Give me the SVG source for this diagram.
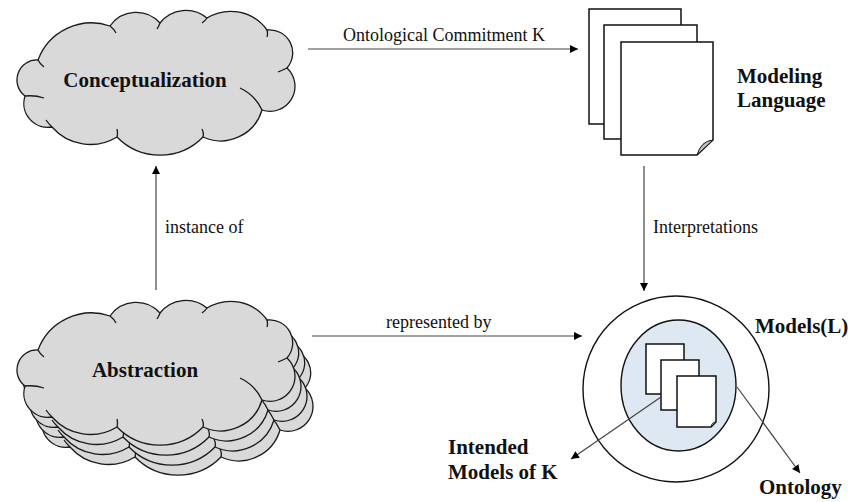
<svg xmlns="http://www.w3.org/2000/svg" xmlns:xlink="http://www.w3.org/1999/xlink" width="848" height="502" viewBox="0 0 848 502">
<style>
.cloud{fill:#d9d9d9;stroke:#1a1a1a;stroke-width:1.3}
.tail{fill:none;stroke:#1a1a1a;stroke-width:1.3}
.doc{fill:#fff;stroke:#111;stroke-width:1.5}
.flap{fill:#c0c0c0;stroke:#111;stroke-width:1}
.bold{font-family:"Liberation Serif","Times New Roman",serif;font-weight:bold;font-size:21px;fill:#111}
.lbl{font-family:"Liberation Serif","Times New Roman",serif;font-size:18px;fill:#111}
.conn{stroke:#444;stroke-width:1.2;fill:none;marker-end:url(#ah)}
</style>
<defs>
<marker id="ah" viewBox="0 0 10 10" refX="10" refY="5" markerWidth="9" markerHeight="8" markerUnits="userSpaceOnUse" orient="auto">
<path d="M0,0 L10,5 L0,10 z" fill="#000"/>
</marker>
<g id="cloudShape">
<path class="cloud" d="M38,60 A57,57 0 0 1 110,26 A32,32 0 0 1 160,23 A33,33 0 0 1 207,18 A45,45 0 0 1 267,30 A23,23 0 0 1 287,68 A25,25 0 0 1 262,110 A43,43 0 0 1 203,137 A60,60 0 0 1 117,137 A51,51 0 0 1 52,127 A24,24 0 0 1 25,96 A20,20 0 0 1 38,60 Z"/>
<path class="tail" d="M38,60 Q40,64 44,67 M110,26 Q114,29 116,33 M160,23 Q159,26 157,29 M207,18 Q205,21 202,23 M267,30 Q268,34 267,37 M287,68 Q283,70 278,72 M262,110 Q255,95 240,88 M203,137 Q204,133 202,129 M117,137 Q118,133 117,129 M52,127 Q48,123 46,120 M25,96 Q35,95 44,98"/>
</g>
</defs>
<rect width="848" height="502" fill="#fff"/>

<g id="conceptualization">
<use xlink:href="#cloudShape"/>
<text class="bold" x="145" y="87" text-anchor="middle">Conceptualization</text>
</g>

<g id="abstraction">
<use xlink:href="#cloudShape" transform="translate(18,320)"/>
<use xlink:href="#cloudShape" transform="translate(12,310)"/>
<use xlink:href="#cloudShape" transform="translate(6,300)"/>
<use xlink:href="#cloudShape" transform="translate(0,290)"/>
<text class="bold" x="145" y="377" text-anchor="middle">Abstraction</text>
</g>

<g id="modeling-language">
<rect class="doc" x="589" y="9" width="92" height="115"/>
<rect class="doc" x="604" y="25" width="93" height="114"/>
<path class="doc" d="M621,42 H713 V140 L697,155 H621 Z"/>
<path class="flap" d="M697,155 L713,140 Q701,141 697,155 Z"/>
<text class="bold" x="737" y="83">Modeling</text>
<text class="bold" x="737" y="107">Language</text>
</g>

<g id="models">
<circle cx="676" cy="389" r="93" fill="#fff" stroke="#111" stroke-width="1.4"/>
<text class="bold" x="755" y="333">Models(L)</text>
</g>

<g id="ontology-set">
<ellipse cx="678.5" cy="385.5" rx="57.5" ry="65.5" fill="#dee8f2" stroke="#111" stroke-width="1.4"/>
<rect class="doc" x="646" y="344" width="38" height="50"/>
<rect class="doc" x="661" y="360" width="38" height="50"/>
<path class="doc" d="M677,376 H716 V422 L711,427 H677 Z"/>
<path class="flap" d="M711,427 L716,422 Q712,422 711,427 Z"/>
</g>

<g id="intended-label">
<text class="bold" x="448" y="454">Intended</text>
<text class="bold" x="448" y="479">Models of K</text>
</g>

<g id="ontology-label">
<text class="bold" x="759" y="494">Ontology</text>
</g>

<g id="connectors">
<line class="conn" x1="308" y1="49" x2="578" y2="49"/>
<text class="lbl" x="343" y="41">Ontological Commitment K</text>
<line class="conn" x1="156" y1="290" x2="156" y2="166"/>
<text class="lbl" x="165" y="233">instance of</text>
<line class="conn" x1="644" y1="166" x2="644" y2="291"/>
<text class="lbl" x="653" y="233">Interpretations</text>
<line class="conn" x1="312" y1="336" x2="582" y2="336"/>
<text class="lbl" x="386" y="328">represented by</text>
<line class="conn" x1="661" y1="397" x2="571" y2="459"/>
<line class="conn" x1="737" y1="387" x2="800" y2="473"/>
</g>
</svg>
